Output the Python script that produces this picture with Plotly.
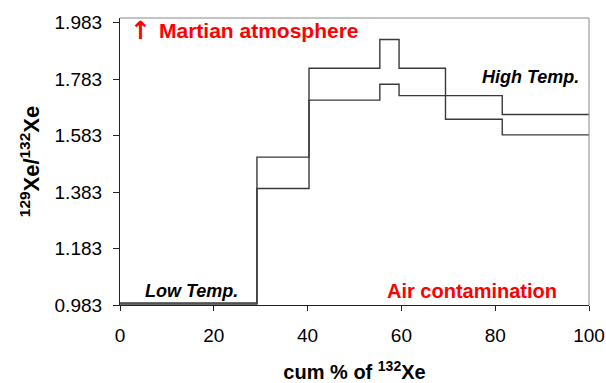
import plotly.graph_objects as go

# step edges (cum % of 132Xe) and ratio values for each step
x_edges = [0, 29.2, 40.3, 55.4, 59.5, 69.4, 81.5, 100]
series_a = [0.990, 1.507, 1.822, 1.924, 1.822, 1.641, 1.586]
series_b = [0.986, 1.396, 1.709, 1.765, 1.725, 1.725, 1.658]

y_ticks = [0.983, 1.183, 1.383, 1.583, 1.783, 1.983]
y_tick_labels = ["0.983", "1.183", "1.383", "1.583", "1.783", "1.983"]
x_ticks = [0, 20, 40, 60, 80, 100]

line_col = "#3a3a3a"
fig = go.Figure()
for vals in (series_a, series_b):
    fig.add_trace(go.Scatter(
        x=x_edges, y=vals + [vals[-1]], mode="lines", line_shape="hv",
        line=dict(color=line_col, width=1.4), showlegend=False, hoverinfo="skip"))

font = "Liberation Sans, Arial, sans-serif"
fig.update_layout(
    width=606, height=383,
    margin=dict(l=120, r=17, t=18, b=78),
    paper_bgcolor="white", plot_bgcolor="white",
    font=dict(family=font, size=19, color="black"),
    xaxis=dict(range=[0, 100], tickvals=x_ticks, showgrid=False, zeroline=False,
               showline=True, linecolor="#222", linewidth=1.2,
               ticks="outside", ticklen=5, tickcolor="#222",
               ticklabelstandoff=8, automargin=False,
               title=dict(text="<b>cum % of <sup>132</sup>Xe</b>", standoff=24,
                          font=dict(size=20))),
    yaxis=dict(range=[0.983, 2.0], tickvals=y_ticks, ticktext=y_tick_labels,
               showgrid=False, zeroline=False,
               showline=True, linecolor="#222", linewidth=1.2,
               ticks="outside", ticklen=6, tickcolor="#222",
               ticklabelstandoff=7, automargin=False,
               title=dict(text="<b><sup>129</sup>Xe/<sup>132</sup>Xe</b>", standoff=8,
                          font=dict(size=22))),
    shapes=[
        dict(type="line", xref="paper", yref="paper", x0=0, x1=1, y0=1, y1=1,
             line=dict(color="#888", width=1)),
        dict(type="line", xref="paper", yref="paper", x0=1, x1=1, y0=0, y1=1,
             line=dict(color="#888", width=1)),
    ],
    annotations=[
        dict(text="<b>↑</b>", x=0.018, y=0.955, xref="paper", yref="paper",
             xanchor="left", yanchor="middle", showarrow=False,
             font=dict(color="red", size=25, family="DejaVu Sans")),
        dict(text="<b>Martian atmosphere</b>", x=0.078, y=0.955, xref="paper", yref="paper",
             xanchor="left", yanchor="middle", showarrow=False,
             font=dict(color="red", size=21, family=font)),
        dict(text="<b><i>High Temp.</i></b>", x=0.983, y=0.796, xref="paper", yref="paper",
             xanchor="right", yanchor="middle", showarrow=False,
             font=dict(color="black", size=18, family=font)),
        dict(text="<b><i>Low Temp.</i></b>", x=0.05, y=0.049, xref="paper", yref="paper",
             xanchor="left", yanchor="middle", showarrow=False,
             font=dict(color="black", size=18, family=font)),
        dict(text="<b>Air contamination</b>", x=0.936, y=0.049, xref="paper", yref="paper",
             xanchor="right", yanchor="middle", showarrow=False,
             font=dict(color="red", size=20, family=font)),
    ],
)
fig.write_html("out.html", config={"displayModeBar": False},
               post_script="document.body.style.margin='0';")
